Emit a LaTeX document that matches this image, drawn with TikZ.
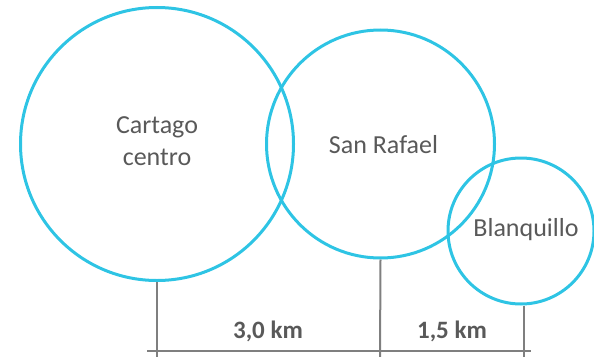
\documentclass[tikz,border=0pt]{standalone}
\usepackage{fontspec}
\setmainfont{Carlito}
\definecolor{ringc}{HTML}{2EC4E4}
\definecolor{txtc}{HTML}{595959}
\definecolor{linec}{HTML}{7F7F7F}
\begin{document}
\begin{tikzpicture}[x=1pt,y=-1pt,
  ring/.style={circle,draw=ringc,line width=3pt,inner sep=0pt},
  place/.style={text=txtc,font=\fontsize{26}{32}\selectfont,align=center,inner sep=0pt},
  dist/.style={text=txtc,font=\bfseries\fontsize{25}{30}\selectfont,inner sep=0pt},
  rule/.style={draw=linec,line width=2pt}]
\useasboundingbox (0,0) rectangle (594,356);
\node[ring,minimum size=273pt] (cart) at (157,144) {};
\node[ring,minimum size=228pt] (sanr) at (380.5,144) {};
\node[ring,minimum size=146pt] (blan) at (521,231) {};
\node[place] (tcart) at ([xshift=0pt,yshift=3pt]cart.center) {Cartago\\centro};
\node[place] (tsanr) at ([xshift=3pt,yshift=-1pt]sanr.center) {San Rafael};
\node[place] (tblan) at ([xshift=5pt,yshift=1pt]blan.center) {Blanquillo};
\coordinate (b1) at (157,358);
\coordinate (b2) at (380,358);
\coordinate (b3) at (524,358);
\coordinate (hl) at (147,351);
\coordinate (hr) at (531,351);
\draw[rule] (cart.south) -- (b1);
\draw[rule] (sanr.south) -- (b2);
\draw[rule] (blan.south -| b3) -- (b3);
\draw[rule] (hl) -- (hr);
\node[dist] (d1) at (268,331) {3,0 km};
\node[dist] (d2) at (452,331) {1,5 km};
\end{tikzpicture}
\end{document}
